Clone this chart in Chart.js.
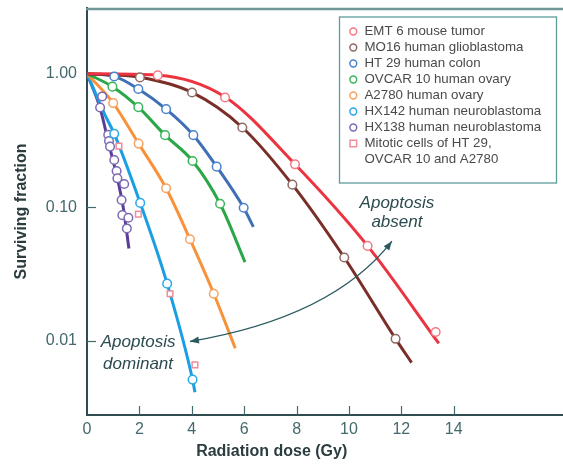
<!DOCTYPE html>
<html>
<head>
<meta charset="utf-8">
<script src="https://cdn.jsdelivr.net/npm/chart.js@4.4.0/dist/chart.umd.min.js"></script>
<style>
  html, body { margin: 0; padding: 0; background: #fff; overflow: hidden; }
  #wrap { width: 563px; height: 466px; position: relative; }
</style>
</head>
<body>
<div id="wrap"><canvas id="chart"></canvas></div>
<script>
// axis ticks
const doseTicks = [0, 2, 4, 6, 8, 10, 12, 14];
const survivalTicks = [0.01, 0.1, 1];

const seriesNames = [
  'EMT 6 mouse tumor',
  'MO16 human glioblastoma',
  'HT 29 human colon',
  'OVCAR 10 human ovary',
  'A2780 human ovary',
  'HX142 human neuroblastoma',
  'HX138 human neuroblastoma',
  ['Mitotic cells of HT 29,', 'OVCAR 10 and A2780']
];

// measured points (dose Gy, surviving fraction)
const emt6Dose = [2.70, 5.27, 7.94, 10.71, 13.31];
const emt6Surv = [0.971, 0.664, 0.21, 0.0515, 0.0117];
const mo16Dose = [2.02, 4.01, 5.93, 7.84, 9.82, 11.78];
const mo16Surv = [0.938, 0.724, 0.396, 0.148, 0.0422, 0.0104];
const ht29Dose = [1.04, 1.96, 3.02, 4.06, 4.95, 5.98];
const ht29Surv = [0.954, 0.768, 0.543, 0.347, 0.2017, 0.0993];
const ovcarDose = [0.97, 1.96, 2.98, 4.03, 5.08];
const ovcarSurv = [0.80, 0.562, 0.347, 0.2225, 0.1064];
const a2780Dose = [1.0, 1.97, 3.02, 3.93, 4.84];
const a2780Surv = [0.603, 0.30, 0.139, 0.0578, 0.0226];
const hx142Dose = [1.04, 2.03, 3.06, 4.03];
const hx142Surv = [0.355, 0.108, 0.0269, 0.00515];
const hx138Dose = [0.58, 0.50, 0.81, 0.84, 0.88, 1.04, 1.13, 1.16, 1.42, 1.32, 1.35, 1.58, 1.52];
const hx138Surv = [0.676, 0.559, 0.349, 0.314, 0.285, 0.226, 0.187, 0.165, 0.1495, 0.1135, 0.0875, 0.0836, 0.0696];
const mitoticDose = [1.22, 1.96, 3.17, 4.12];
const mitoticSurv = [0.287, 0.0891, 0.0226, 0.00664];

// fitted curves
const emt6CurveDose = [0, 2.7, 5.27, 7.94, 10.71, 13.43];
const emt6CurveSurv = [1, 0.975, 0.67, 0.21, 0.0515, 0.0096];
const mo16CurveDose = [0, 2.02, 4.01, 5.93, 7.84, 9.82, 11.78, 12.39];
const mo16CurveSurv = [1, 0.94, 0.724, 0.396, 0.148, 0.0422, 0.0104, 0.0069];
const ht29CurveDose = [0, 1.04, 1.96, 3.02, 4.06, 4.95, 5.98, 6.35];
const ht29CurveSurv = [1, 0.954, 0.768, 0.543, 0.347, 0.2017, 0.0993, 0.0715];
const ovcarCurveDose = [0, 0.97, 1.96, 2.98, 4.03, 5.08, 6.03];
const ovcarCurveSurv = [1, 0.80, 0.562, 0.347, 0.2225, 0.1064, 0.039];
const a2780CurveDose = [0, 1.0, 1.97, 3.02, 3.93, 4.84, 5.66];
const a2780CurveSurv = [1, 0.603, 0.30, 0.139, 0.0578, 0.0226, 0.00885];
const hx142CurveDose = [0, 0.69, 1.04, 2.03, 3.06, 4.03, 4.12];
const hx142CurveSurv = [1, 0.49, 0.355, 0.108, 0.0269, 0.00515, 0.00414];
const hx138CurveDose = [0, 0.5, 0.81, 1.13, 1.39, 1.6];
const hx138CurveSurv = [1, 0.553, 0.311, 0.175, 0.0983, 0.0492];

const pts = (xs, ys) => xs.map((x, i) => ({ x, y: ys[i] }));

const lineColors = ['#ec3340', '#7a2e28', '#3f6fb6', '#2aa747', '#f7923b', '#1a9fe2', '#5b3c97'];
const markColors = ['#f27a85', '#8e6a64', '#4a82cc', '#3bb55a', '#f5a262', '#29a8e8', '#7c6ab4', '#f08d9b'];

const curves = [
  pts(emt6CurveDose, emt6CurveSurv), pts(mo16CurveDose, mo16CurveSurv),
  pts(ht29CurveDose, ht29CurveSurv), pts(ovcarCurveDose, ovcarCurveSurv),
  pts(a2780CurveDose, a2780CurveSurv), pts(hx142CurveDose, hx142CurveSurv),
  pts(hx138CurveDose, hx138CurveSurv)
];
const marks = [
  pts(emt6Dose, emt6Surv), pts(mo16Dose, mo16Surv), pts(ht29Dose, ht29Surv),
  pts(ovcarDose, ovcarSurv), pts(a2780Dose, a2780Surv), pts(hx142Dose, hx142Surv),
  pts(hx138Dose, hx138Surv), pts(mitoticDose, mitoticSurv)
];

const datasets = [];
curves.forEach((d, i) => datasets.push({
  data: d, showLine: true, borderColor: lineColors[i], borderWidth: 3,
  pointRadius: 0, cubicInterpolationMode: 'monotone', order: 2, isCurve: true
}));
marks.forEach((d, i) => datasets.push({
  label: seriesNames[i], data: d, showLine: false,
  pointStyle: i === 7 ? 'rect' : 'circle', pointRadius: i === 7 ? 4 : 4.3,
  pointBackgroundColor: '#fff', pointBorderColor: markColors[i], pointBorderWidth: 1.5,
  order: 1
}));

const axisColor = '#2f4c50';
const tickColor = '#44696d';

const decor = {
  id: 'decor',
  beforeDatasetsDraw(chart) {
    const { ctx, chartArea: a, scales: { x, y } } = chart;
    ctx.save();
    ctx.strokeStyle = tickColor;
    ctx.lineWidth = 1.2;
    survivalTicks.forEach(v => {
      const py = Math.round(y.getPixelForValue(v)) + 0.5;
      ctx.beginPath(); ctx.moveTo(a.left, py); ctx.lineTo(a.left + 9, py); ctx.stroke();
    });
    doseTicks.slice(1).forEach(v => {
      const px = Math.round(x.getPixelForValue(v)) + 0.5;
      ctx.beginPath(); ctx.moveTo(px, a.bottom); ctx.lineTo(px, a.bottom - 9); ctx.stroke();
    });
    ctx.restore();
  },
  afterDraw(chart) {
    const { ctx, chartArea: a, scales: { x, y } } = chart;
    ctx.save();
    // top frame line
    ctx.strokeStyle = '#6f9797';
    ctx.lineWidth = 2.5;
    ctx.beginPath(); ctx.moveTo(a.left - 1, a.top + 1); ctx.lineTo(a.right, a.top + 1); ctx.stroke();

    // x axis title
    ctx.fillStyle = '#2c3d40';
    ctx.font = 'bold 16px "Liberation Sans", Arial, sans-serif';
    ctx.textAlign = 'center';
    ctx.textBaseline = 'middle';
    ctx.fillText('Radiation dose (Gy)', x.getPixelForValue(7.05), 452);

    // curved double arrow
    const p0 = { x: x.getPixelForValue(3.93), y: y.getPixelForValue(0.00993) };
    const c = { x: x.getPixelForValue(9.39), y: y.getPixelForValue(0.01503) };
    const p2 = { x: x.getPixelForValue(11.64), y: y.getPixelForValue(0.0559) };
    ctx.strokeStyle = '#2b5a5e';
    ctx.fillStyle = '#2b5a5e';
    ctx.lineWidth = 1.3;
    ctx.beginPath(); ctx.moveTo(p0.x, p0.y); ctx.quadraticCurveTo(c.x, c.y, p2.x, p2.y); ctx.stroke();
    const head = (tip, from) => {
      const ang = Math.atan2(tip.y - from.y, tip.x - from.x);
      ctx.beginPath();
      ctx.moveTo(tip.x, tip.y);
      ctx.lineTo(tip.x - 9 * Math.cos(ang) + 3.5 * Math.sin(ang), tip.y - 9 * Math.sin(ang) - 3.5 * Math.cos(ang));
      ctx.lineTo(tip.x - 9 * Math.cos(ang) - 3.5 * Math.sin(ang), tip.y - 9 * Math.sin(ang) + 3.5 * Math.cos(ang));
      ctx.closePath(); ctx.fill();
    };
    head(p0, c);
    head(p2, c);

    // annotations
    ctx.fillStyle = '#2c4b50';
    ctx.font = 'italic 17px "Liberation Sans", Arial, sans-serif';
    ctx.fillText('Apoptosis', x.getPixelForValue(11.83), y.getPixelForValue(0.1077));
    ctx.fillText('absent', x.getPixelForValue(11.83), y.getPixelForValue(0.0775));
    ctx.fillText('Apoptosis', x.getPixelForValue(1.95), y.getPixelForValue(0.00978));
    ctx.fillText('dominant', x.getPixelForValue(1.95), y.getPixelForValue(0.00674));

    // legend box
    const bx = 339.5, by = 17, bw = 217, bh = 166;
    ctx.fillStyle = '#fff';
    ctx.fillRect(bx, by, bw, bh);
    ctx.strokeStyle = '#5e9c9c';
    ctx.lineWidth = 1.3;
    ctx.strokeRect(bx, by, bw, bh);
    ctx.font = '13.3px "Liberation Sans", Arial, sans-serif';
    ctx.textAlign = 'left';
    let rowY = 31.5;
    chart.data.datasets.filter(d => !d.isCurve).forEach(d => {
      ctx.strokeStyle = d.pointBorderColor;
      ctx.lineWidth = 1.5;
      ctx.beginPath();
      if (d.pointStyle === 'rect') ctx.rect(350, rowY - 3.3, 6.6, 6.6);
      else ctx.arc(353.3, rowY, 3.4, 0, Math.PI * 2);
      ctx.stroke();
      ctx.fillStyle = '#4a4a4a';
      const lines = Array.isArray(d.label) ? d.label : [d.label];
      lines.forEach((t, k) => ctx.fillText(t, 364.5, rowY + k * 16));
      rowY += 16 * lines.length;
    });
    ctx.restore();
  }
};

new Chart(document.getElementById('chart'), {
  type: 'scatter',
  data: { datasets },
  options: {
    responsive: true,
    maintainAspectRatio: false,
    animation: false,
    layout: { autoPadding: false, padding: { top: 8, right: 0, left: 0, bottom: 0 } },
    plugins: { legend: { display: false }, tooltip: { enabled: false } },
    scales: {
      x: {
        type: 'linear', min: 0, max: 18.17,
        afterFit: s => { s.height = 51; s.paddingLeft = 0; s.paddingRight = 0; },
        afterBuildTicks: s => { s.ticks = doseTicks.map(v => ({ value: v })); },
        grid: { display: true, drawOnChartArea: false, drawTicks: false },
        border: { display: true, color: axisColor, width: 2 },
        ticks: { color: tickColor, padding: 5, font: { size: 16 }, maxRotation: 0 }
      },
      y: {
        type: 'logarithmic', min: 0.0028, max: 3.1,
        afterFit: s => { s.width = 87; s.paddingTop = 0; s.paddingBottom = 0; },
        afterBuildTicks: s => { s.ticks = survivalTicks.map(v => ({ value: v })); },
        grid: { display: true, drawOnChartArea: false, drawTicks: false },
        border: { display: true, color: axisColor, width: 2 },
        ticks: { color: tickColor, padding: 10, font: { size: 16 }, callback: v => Number(v).toFixed(2) },
        title: { display: true, text: 'Surviving fraction', color: '#2c3d40', font: { size: 16, weight: 'bold' }, padding: { top: 12, bottom: 0 } }
      }
    }
  },
  plugins: [decor]
});
Chart.defaults.font.family = '"Liberation Sans", Arial, sans-serif';
</script>
</body>
</html>
